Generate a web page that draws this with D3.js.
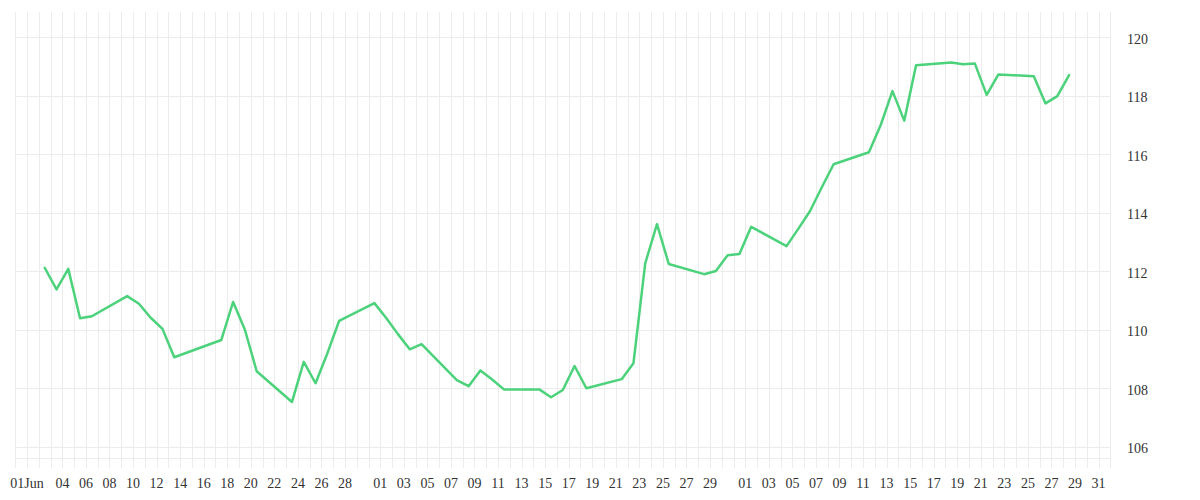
<!DOCTYPE html>
<html>
<head>
<meta charset="utf-8">
<script src="https://cdn.jsdelivr.net/npm/d3@7/dist/d3.min.js"></script>
<style>
  html, body { margin: 0; padding: 0; background: #ffffff; }
  svg { display: block; }
  text { font-family: "Liberation Serif", "DejaVu Serif", serif; font-size: 14px; fill: #333333; }
</style>
</head>
<body>
<svg id="chart" width="1200" height="500"></svg>
<script>
// ---- data ----
const dates = [
  "2025-06-02","2025-06-03","2025-06-04","2025-06-05","2025-06-06",
  "2025-06-09","2025-06-10","2025-06-11","2025-06-12","2025-06-13",
  "2025-06-17","2025-06-18","2025-06-19","2025-06-20",
  "2025-06-23","2025-06-24","2025-06-25","2025-06-26","2025-06-27",
  "2025-06-30","2025-07-01","2025-07-02","2025-07-03","2025-07-04",
  "2025-07-07","2025-07-08","2025-07-09","2025-07-10","2025-07-11",
  "2025-07-14","2025-07-15","2025-07-16","2025-07-17","2025-07-18",
  "2025-07-21","2025-07-22","2025-07-23","2025-07-24","2025-07-25",
  "2025-07-28","2025-07-29","2025-07-30","2025-07-31","2025-08-01",
  "2025-08-04","2025-08-05","2025-08-06","2025-08-07","2025-08-08",
  "2025-08-11","2025-08-12","2025-08-13","2025-08-14","2025-08-15",
  "2025-08-18","2025-08-19","2025-08-20","2025-08-21","2025-08-22",
  "2025-08-25","2025-08-26","2025-08-27","2025-08-28"
];
const values = [
  112.12, 111.38, 112.08, 110.39, 110.46,
  111.15, 110.89, 110.41, 110.03, 109.06,
  109.65, 110.95, 110.00, 108.58,
  107.53, 108.90, 108.17, 109.19, 110.30,
  110.91, 110.40, 109.85, 109.33, 109.51,
  108.28, 108.07, 108.61, 108.30, 107.96,
  107.96, 107.69, 107.94, 108.76, 108.00,
  108.31, 108.85, 112.27, 113.61, 112.25,
  111.90, 112.01, 112.55, 112.59, 113.52,
  112.86, 113.45, 114.06, 114.87, 115.66,
  116.07, 117.00, 118.16, 117.15, 119.04,
  119.14, 119.08, 119.10, 118.03, 118.73,
  118.67, 117.74, 117.99, 118.71
];
const tickDates = [
  "2025-06-01","2025-06-04","2025-06-06","2025-06-08","2025-06-10","2025-06-12","2025-06-14",
  "2025-06-16","2025-06-18","2025-06-20","2025-06-22","2025-06-24","2025-06-26","2025-06-28",
  "2025-07-01","2025-07-03","2025-07-05","2025-07-07","2025-07-09","2025-07-11","2025-07-13",
  "2025-07-15","2025-07-17","2025-07-19","2025-07-21","2025-07-23","2025-07-25","2025-07-27","2025-07-29",
  "2025-08-01","2025-08-03","2025-08-05","2025-08-07","2025-08-09","2025-08-11","2025-08-13",
  "2025-08-15","2025-08-17","2025-08-19","2025-08-21","2025-08-23","2025-08-25","2025-08-27",
  "2025-08-29","2025-08-31"
];
const tickLabels = [
  "01Jun","04","06","08","10","12","14","16","18","20","22","24","26","28",
  "01","03","05","07","09","11","13","15","17","19","21","23","25","27","29",
  "01","03","05","07","09","11","13","15","17","19","21","23","25","27","29","31"
];
const yTicks = [106, 108, 110, 112, 114, 116, 118, 120];
const domainStart = "2025-05-31";
const domainEnd = "2025-09-01";
const yDomain = [105.614, 120.865];

// ---- drawing ----
(function () {
  const parse = d3.timeParse("%Y-%m-%d");
  const svg = d3.select("#chart");
  const mLeft = 15.3, mRight = 1110.3, mTop = 12, mBottom = 458;

  const x = d3.scaleTime().domain([parse(domainStart), parse(domainEnd)]).range([mLeft, mRight]);
  const y = d3.scaleLinear().domain(yDomain).range([mBottom, mTop]);
  const px = v => Math.round(v) + 0.5;

  const grid = svg.append("g").attr("shape-rendering", "crispEdges");
  const days = d3.timeDay.range(parse(domainStart), d3.timeDay.offset(parse(domainEnd), 1));
  grid.selectAll("line.v").data(days).join("line")
    .attr("class", "v")
    .attr("x1", d => px(x(d))).attr("x2", d => px(x(d)))
    .attr("y1", mTop).attr("y2", mBottom + 10)
    .attr("stroke", "#ececec").attr("stroke-width", 1);
  grid.selectAll("line.h").data(yTicks).join("line")
    .attr("class", "h")
    .attr("x1", mLeft).attr("x2", mRight)
    .attr("y1", d => px(y(d))).attr("y2", d => px(y(d)))
    .attr("stroke", "#ececec").attr("stroke-width", 1);
  grid.append("line")
    .attr("x1", mLeft).attr("x2", mRight)
    .attr("y1", px(mBottom)).attr("y2", px(mBottom))
    .attr("stroke", "#ececec");

  svg.append("g").selectAll("text").data(yTicks).join("text")
    .attr("x", 1127).attr("y", d => y(d))
    .attr("dy", "0.45em")
    .text(d => d);

  svg.append("g").selectAll("text").data(tickDates).join("text")
    .attr("x", d => x(parse(d)))
    .attr("y", 488)
    .attr("text-anchor", "middle")
    .text((d, i) => tickLabels[i]);

  const pts = dates.map((d, i) => ({ t: d3.timeHour.offset(parse(d), 12), v: values[i] }));
  const line = d3.line().x(d => x(d.t)).y(d => y(d.v));
  svg.append("path").datum(pts)
    .attr("d", line)
    .attr("fill", "none")
    .attr("stroke", "#4cd27b")
    .attr("stroke-width", 2.5)
    .attr("stroke-linejoin", "round")
    .attr("stroke-linecap", "round");
})();
</script>
</body>
</html>
